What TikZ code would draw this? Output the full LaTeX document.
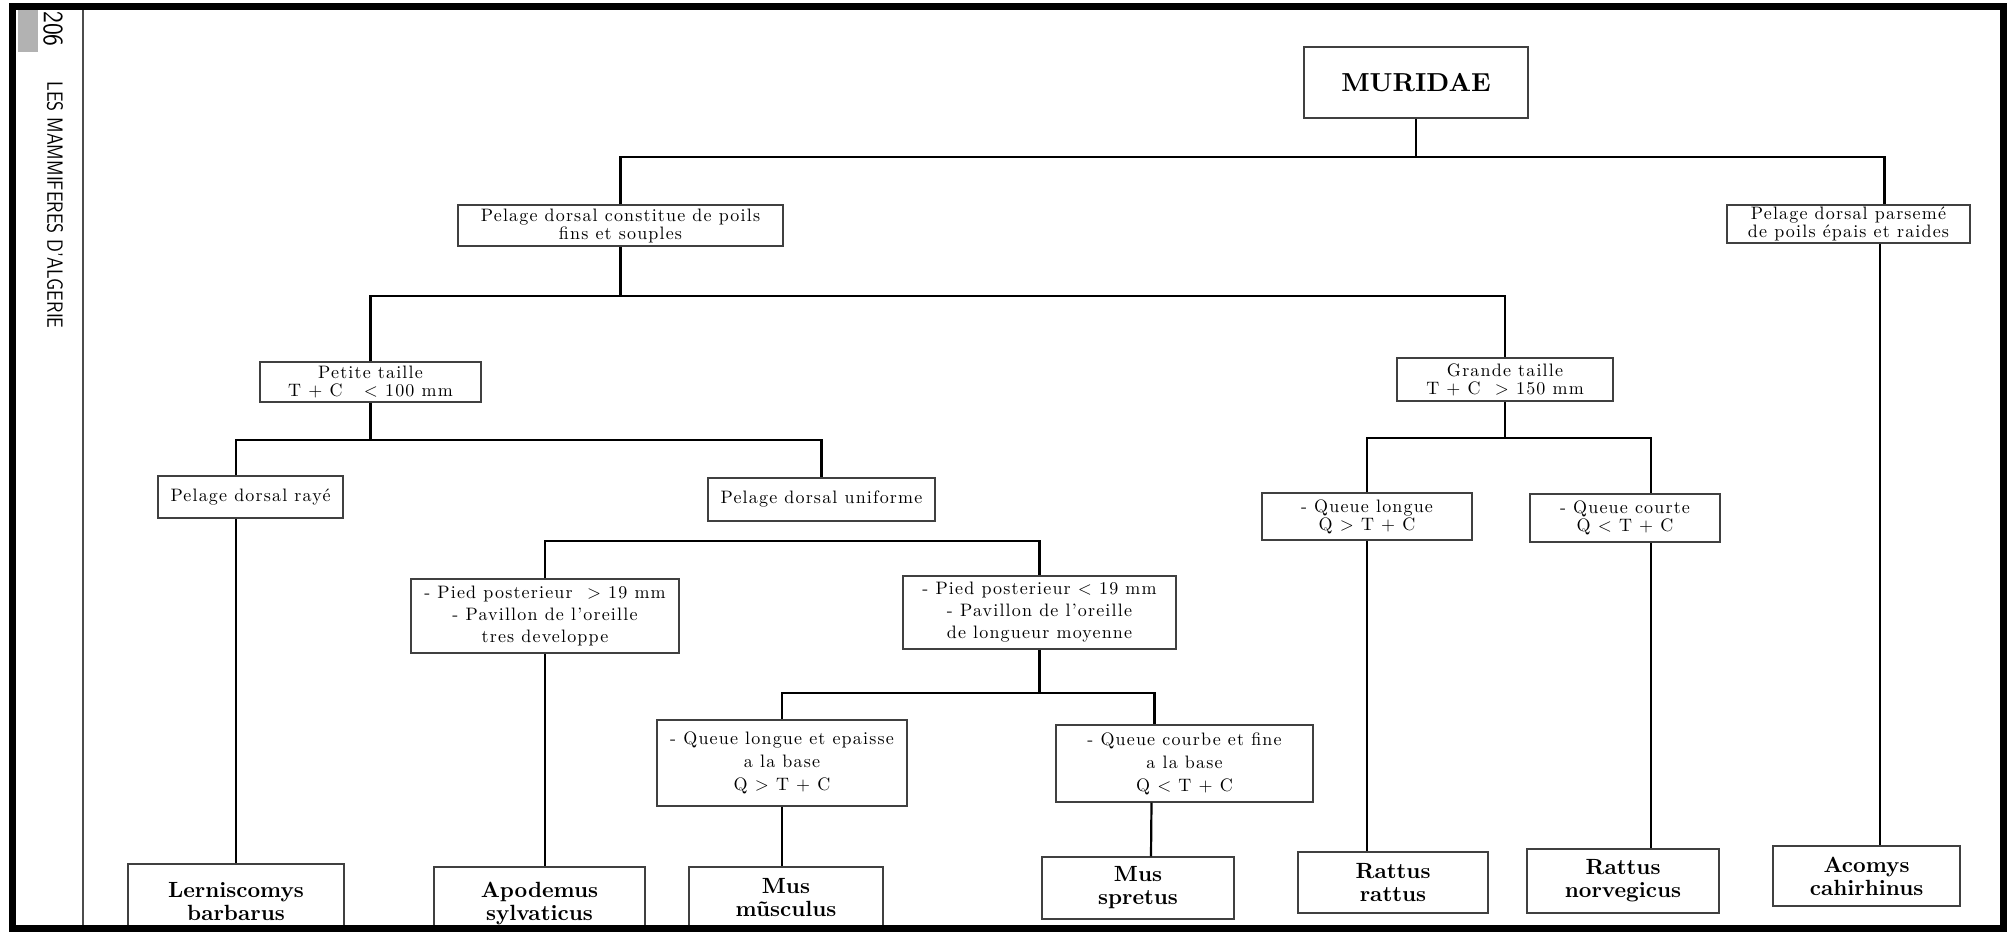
\documentclass[tikz,border=0pt]{standalone}
\usepackage{fontspec}
\setmainfont{lmroman10}[Extension=.otf, UprightFont=*-regular, BoldFont=*-bold,
  ItalicFont=*-italic, BoldItalicFont=*-bolditalic]
\usetikzlibrary{calc}

\begin{document}
\begin{tikzpicture}[x=0.5pt, y=-0.5pt,
  sz/.style 2 args={minimum width=#1*0.5pt, minimum height=#2*0.5pt},
  box/.style={draw=black!75, line width=0.6pt, inner sep=0pt, align=center,
    font=\fontsize{9}{9}\selectfont\addfontfeatures{LetterSpace=6.5}},
  leaf/.style={draw=black!75, line width=0.6pt, inner sep=0pt, align=center,
    font=\fontsize{11}{11.5}\selectfont\bfseries},
  title/.style={draw=black!75, line width=0.6pt, inner sep=0pt,
    font=\fontsize{13}{13}\selectfont\bfseries},
  link/.style={line width=1.1pt}]
  \useasboundingbox (0,0) rectangle (2009,932);

  % levels of the key
  \coordinate (r1) at (0,157);
  \coordinate (r2) at (0,296);
  \coordinate (r3) at (0,440);
  \coordinate (r3b) at (0,541);
  \coordinate (r4) at (0,693);
  \coordinate (r5) at (0,438);

  \node (muridae) [title, sz={224}{71}] at (1416,82.5) {MURIDAE};
  \node (constitue) [box, sz={325}{41}] at (620.5,225.5) {Pelage dorsal constitue de poils\\fins et souples};
  \node (parseme) [box, sz={243}{38}] at (1848.5,224) {Pelage dorsal parsemé\\de poils épais et raides};
  \node (petite) [box, sz={221}{40}] at (370.5,382) {Petite taille\\T + C \ \ < 100 mm};
  \node (grande) [box, sz={216}{43}] at (1505,379.5) {Grande taille\\T + C \ > 150 mm};
  \node (raye) [box, sz={185}{42}] at (250.5,497) {Pelage dorsal rayé};
  \node (uniforme) [box, sz={227}{43}] at (821.5,499.5) {Pelage dorsal uniforme};
  \node (pied1) [box, sz={268}{74}] at (545,616) {- Pied posterieur \ > 19 mm\\[2pt] - Pavillon de l'oreille\\[2pt] tres developpe};
  \node (pied2) [box, sz={273}{73}] at (1039.5,612.5) {- Pied posterieur < 19 mm\\[2pt] - Pavillon de l'oreille\\[2pt] de longueur moyenne};
  \node (epaisse) [box, sz={250}{86}] at (782,763) {- Queue longue et epaisse\\[2.5pt] a la base\\[2.5pt] Q > T + C};
  \node (courbe) [box, sz={257}{77}] at (1184.5,763.5) {- Queue courbe et fine\\[2.5pt] a la base\\[2.5pt] Q < T + C};
  \node (qlongue) [box, sz={210}{47}] at (1367,516.5) {- Queue longue\\Q > T + C};
  \node (qcourte) [box, sz={190}{48}] at (1625,518) {- Queue courte\\Q < T + C};

  \foreach \n/\x/\y/\w/\h/\t in {
      lern/236/902/216/76/{Lerniscomys\\barbarus},
      apod/539.5/903.5/211/73/{Apodemus\\sylvaticus},
      musc/786/897.5/194/61/{Mus\\mũsculus},
      spretus/1138/888/192/62/{Mus\\spretus},
      rattus/1393/882.5/190/61/{Rattus\\rattus},
      norv/1623/881/192/64/{Rattus\\norvegicus},
      acomys/1866.5/876/187/60/{Acomys\\cahirhinus}}
    \node (\n) [leaf, sz={\w}{\h}] at (\x,\y) {\t};

  \draw[link] (muridae.south) -- (muridae.south |- r1);
  \draw[link] (constitue.north) |- ($(parseme.north |- r1)+(36,0)$) -- ($(parseme.north)+(36,0)$);
  \draw[link] ($(parseme.south)+(31.5,0)$) -- ($(acomys.north)+(13.5,0)$);
  \draw[link] (constitue.south) -- (constitue.south |- r2);
  \draw[link] (petite.north) |- (grande.north |- r2) -- (grande.north);
  \draw[link] (petite.south) -- (petite.south |- r3);
  \draw[link] (raye.north -| lern.north) |- (uniforme.north |- r3) -- (uniforme.north);
  \draw[link] (raye.south -| lern.north) -- (lern.north);
  \draw[link] (pied1.north) |- (pied2.north |- r3b) -- (pied2.north);
  \draw[link] (pied1.south) -- (pied1.south |- apod.north);
  \draw[link] (pied2.south) -- (pied2.south |- r4);
  \draw[link] (epaisse.north) |- ($(courbe.north |- r4)+(-30,0)$) -- ($(courbe.north)+(-30,0)$);
  \draw[link] (epaisse.south) -- (epaisse.south |- musc.north);
  \draw[link] ($(courbe.south)+(-33,0)$) -- ($(spretus.north)+(13,0)$);
  \draw[link] (grande.south) -- (grande.south |- r5);
  \draw[link] (qlongue.north) |- ($(qcourte.north |- r5)+(26,0)$) -- ($(qcourte.north)+(26,0)$);
  \draw[link] (qlongue.south) -- (qlongue.south |- rattus.north);
  \draw[link] ($(qcourte.south)+(26,0)$) -- ($(qcourte.south |- norv.north)+(26,0)$);

  % page margin
  \fill[black!30] (18,10) rectangle (38,52);
  \node[font=\sffamily\fontsize{14}{14}\selectfont, rotate=-90] (page) at (53,29) {\scalebox{0.86}[1]{206}};
  \node[font=\sffamily\fontsize{11}{11}\selectfont, rotate=-90] (header) at (55,205) {\scalebox{0.83}[1]{LES MAMMIFERES D'ALGERIE}};
  \draw[line width=0.8pt, black!70] (83,8) -- (83,928);
  \draw[line width=3.5pt] (12,6.5) rectangle (2003,928);
\end{tikzpicture}
\end{document}
